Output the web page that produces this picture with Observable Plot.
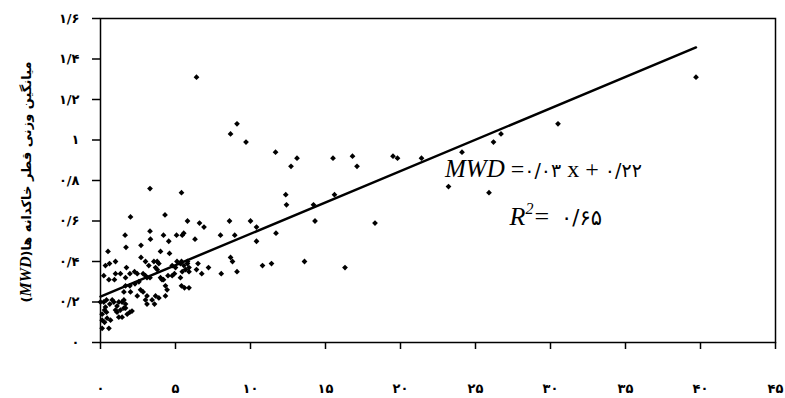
<!DOCTYPE html>
<html><head><meta charset="utf-8">
<script src="https://cdn.jsdelivr.net/npm/d3@7"></script>
<script src="https://cdn.jsdelivr.net/npm/@observablehq/plot@0.6"></script>
<style>body{margin:0;background:#fff} svg{display:block}</style>
</head><body><div id="chart"></div>
<script>
const xTicks = [0,5,10,15,20,25,30,35,40,45];
const xTickLabels = ["۰","۵","۱۰","۱۵","۲۰","۲۵","۳۰","۳۵","۴۰","۴۵"];
const yTicks = [0,0.2,0.4,0.6,0.8,1,1.2,1.4,1.6];
const yTickLabels = ["۰","۰/۲","۰/۴","۰/۶","۰/۸","۱","۱/۲","۱/۴","۱/۶"];
const yLabelText = "میانگین وزنی قطر خاکدانه ها(";
const yLabelVar = "MWD";
const eqLabel = {name:"MWD", eq:" =", a:"۰/۰۳", mid:" x + ", b:"۰/۲۲", x:23.0, y:0.815};
const r2Label = {name:"R", sup:"2", eq:"=", v:"۰/۶۵", x:27.3, y:0.578};

// scatter points (x, MWD)
const pointX = [6.4,8.67,9.1,9.7,11.67,12.7,13.1,15.5,16.8,17.1,19.5,19.8,21.4,24.1,26.2,26.7,30.5,39.7,23.2,25.9,
 12.35,12.4,15.6,14.2,14.3,18.3,5.4,5.8,6.6,6.9,8.6,10.0,10.4,5.45,5.55,6.3,8.0,8.95,10.4,11.7,
 8.67,8.8,9.1,8.05,10.8,11.4,7.2,6.5,6.4,6.75,5.9,5.9,5.4,5.4,5.6,5.9,13.6,16.3,
 1.64,3.33,4.2,4.55,5.07,0.6,1.0,2.7,1.73,1.33,0.33,0.22,0.56,0.93,1.0,1.96,2.27,2.45,2.84,3.0,
 3.0,3.22,3.67,3.78,4.0,4.1,4.2,3.1,3.3,1.67,2.3,1.96,2.56,2.67,2.84,2.0,1.56,1.67,2.45,3.0,
 3.1,3.44,3.67,3.89,4.33,4.44,4.33,4.78,4.93,3.78,3.89,3.56,5.1,5.33,5.56,5.8,4.78,5.0,4.5,3.6,
 3.1,0,0.22,0.4,0.62,0.78,0.89,1.1,1.22,1.44,1.56,1.67,1.0,1.1,1.33,1.56,1.67,1.22,1.44,1.78,
 1.96,2.1,0.11,0.27,0.4,0.11,0.27,0.44,0.67,0.11,0.56,0.33,5.8,5.67,5.45,5.33,
 2.0,3.3,4.3,3.3,2.7,1.7,0.5,4.0,4.6];
const pointY = [1.31,1.03,1.08,0.99,0.94,0.87,0.91,0.91,0.92,0.87,0.92,0.91,0.91,0.94,0.99,1.03,1.08,1.31,0.77,0.74,
 0.73,0.68,0.73,0.68,0.60,0.59,0.74,0.60,0.59,0.57,0.60,0.60,0.57,0.53,0.54,0.51,0.53,0.53,0.50,0.54,
 0.42,0.40,0.35,0.34,0.38,0.39,0.37,0.39,0.36,0.34,0.37,0.35,0.40,0.28,0.27,0.27,0.40,0.37,
 0.53,0.51,0.53,0.50,0.53,0.39,0.40,0.42,0.37,0.34,0.38,0.33,0.31,0.31,0.34,0.34,0.35,0.34,0.34,0.33,
 0.40,0.38,0.37,0.36,0.32,0.31,0.31,0.32,0.32,0.32,0.29,0.28,0.30,0.26,0.25,0.25,0.25,0.28,0.23,0.21,
 0.23,0.21,0.23,0.22,0.23,0.26,0.28,0.33,0.34,0.40,0.39,0.40,0.40,0.39,0.38,0.39,0.38,0.37,0.33,0.19,
 0.19,0.20,0.20,0.21,0.19,0.21,0.20,0.18,0.20,0.20,0.21,0.19,0.16,0.15,0.16,0.17,0.17,0.125,0.125,0.14,
 0.15,0.155,0.14,0.16,0.15,0.11,0.10,0.12,0.11,0.07,0.07,0.175,0.40,0.36,0.35,0.32,
 0.62,0.76,0.63,0.55,0.48,0.47,0.45,0.45,0.44];

// fitted trend line endpoints
const trendX = [0, 39.7];
const trendY = [0.227, 1.457];

const points = pointX.map((x, i) => ({x, y: pointY[i]}));
const trend = trendX.map((x, i) => ({x, y: trendY[i]}));

const chart = Plot.plot({
  width: 785, height: 398,
  marginLeft: 100, marginRight: 10, marginTop: 18, marginBottom: 56,
  style: {fontFamily: "DejaVu Sans", fontSize: "13px", color: "#000", background: "#fff"},
  x: {domain: [0, 45]},
  y: {domain: [0, 1.6]},
  marks: [
    Plot.axisX({ticks: xTicks, tickFormat: d => xTickLabels[Math.round(d / 5)], tickSize: 7, tickPadding: 34, label: null, strokeWidth: 1.5, fontWeight: "bold"}),
    Plot.axisY({ticks: yTicks, tickFormat: d => yTickLabels[Math.round(d * 5)], tickSize: 8, tickPadding: 13, label: null, strokeWidth: 1.5, fontWeight: "bold"}),
    Plot.frame({stroke: "#000", strokeWidth: 1.5}),
    Plot.line(trend, {x: "x", y: "y", stroke: "#000", strokeWidth: 2.5}),
    Plot.dot(points, {x: "x", y: "y", symbol: "square", rotate: 45, r: 2.3, fill: "#000", stroke: "none"})
  ]
});
document.getElementById("chart").append(chart);

const svg = d3.select(chart);
const sx = chart.scale("x"), sy = chart.scale("y");

// y axis title
const yl = svg.append("text")
  .attr("transform", `translate(31,${(18 + 342) / 2 + 2}) rotate(-90)`)
  .attr("text-anchor", "middle").attr("direction", "rtl")
  .attr("font-family", "DejaVu Sans").attr("font-size", 13).attr("font-weight", "bold");
yl.append("tspan").text(yLabelText);
yl.append("tspan").attr("font-family", "Liberation Serif").attr("font-style", "italic").attr("font-size", 16).text(yLabelVar);
yl.append("tspan").text(")");

// regression equation
const eq = svg.append("text")
  .attr("x", sx.apply(eqLabel.x)).attr("y", sy.apply(eqLabel.y))
  .attr("text-anchor", "start")
  .attr("font-family", "Liberation Serif").attr("font-size", 24);
eq.append("tspan").attr("font-style", "italic").attr("font-size", 25).text(eqLabel.name);
eq.append("tspan").text(eqLabel.eq);
eq.append("tspan").attr("font-family", "DejaVu Sans").attr("font-size", 19).text(eqLabel.a);
eq.append("tspan").text(eqLabel.mid);
eq.append("tspan").attr("font-family", "DejaVu Sans").attr("font-size", 19).text(eqLabel.b);

const r2 = svg.append("text")
  .attr("x", sx.apply(r2Label.x)).attr("y", sy.apply(r2Label.y))
  .attr("text-anchor", "start")
  .attr("font-family", "Liberation Serif").attr("font-size", 26);
r2.append("tspan").attr("font-style", "italic").text(r2Label.name);
r2.append("tspan").attr("font-style", "italic").attr("font-size", 16).attr("dy", -11).text(r2Label.sup);
r2.append("tspan").attr("dy", 11).attr("dx", 1).text(r2Label.eq);
r2.append("tspan").attr("font-family", "DejaVu Sans").attr("font-size", 21).attr("dx", 12).text(r2Label.v);
</script>
</body></html>
